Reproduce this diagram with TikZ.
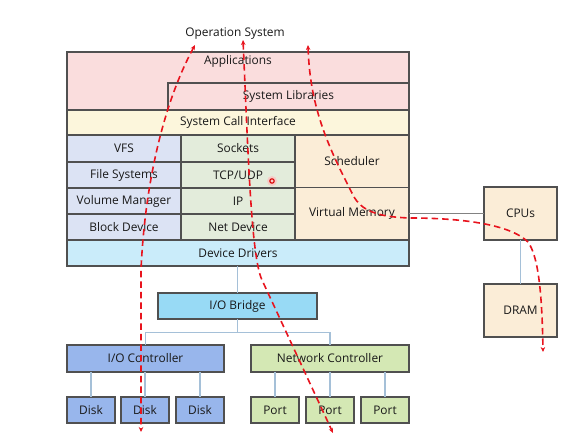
\documentclass[tikz,border=0pt]{standalone}
\usepackage{fontspec}
\setmainfont{Open Sans}
\usetikzlibrary{arrows.meta}
\definecolor{bordc}{RGB}{80,80,80}
\definecolor{apppink}{RGB}{250,221,221}
\definecolor{scicream}{RGB}{252,246,220}
\definecolor{fsblue}{RGB}{220,227,244}
\definecolor{netgreen}{RGB}{227,236,219}
\definecolor{memtan}{RGB}{251,237,215}
\definecolor{ddcyan}{RGB}{202,236,250}
\definecolor{bridgecyan}{RGB}{152,218,245}
\definecolor{iocblue}{RGB}{152,182,236}
\definecolor{ncgreen}{RGB}{212,232,180}
\definecolor{linkc}{RGB}{165,192,216}
\definecolor{grayline}{RGB}{130,130,130}
\definecolor{flowred}{RGB}{232,20,30}
\tikzset{
  cell/.style={draw=bordc, line width=1.1bp, inner sep=0pt, outer sep=0pt,
    font=\fontsize{11.9bp}{14bp}\selectfont, text=black!90},
  lbl/.style={inner sep=0pt, font=\fontsize{11.9bp}{14bp}\selectfont, text=black!90},
  link/.style={draw=linkc, line width=1.2bp},
  flow/.style={draw=flowred, line width=1.6bp, dash pattern=on 6.5bp off 4bp,
    {Stealth[length=5bp,width=4.5bp]}-{Stealth[length=5bp,width=4.5bp]}}
}
\begin{document}
\begin{tikzpicture}[x=1bp,y=-1bp]
\useasboundingbox (0,0) rectangle (585,442);
\fill[white] (0,0) rectangle (585,442);
% top stack
\node[cell, fill=apppink, minimum width=342bp, minimum height=58bp] (app) at (238,81) {};
\node[lbl] (apptxt) at (238,61) {Applications};
\node[cell, fill=apppink, minimum width=241bp, minimum height=27bp] (slib) at (288.5,96.5) {System Libraries};
\node[cell, fill=scicream, minimum width=342bp, minimum height=25bp] (sci) at (238,122.5) {System Call Interface};
\node[cell, fill=fsblue, minimum width=114bp, minimum height=27bp] (vfs) at (124,148.5) {VFS};
\node[cell, fill=fsblue, minimum width=114bp, minimum height=26bp] (fs) at (124,175) {File Systems};
\node[cell, fill=fsblue, minimum width=114bp, minimum height=26bp] (vol) at (124,201) {Volume Manager};
\node[cell, fill=fsblue, minimum width=114bp, minimum height=26bp] (blk) at (124,227) {Block Device};
\node[cell, fill=netgreen, minimum width=114bp, minimum height=27bp] (sock) at (238,148.5) {Sockets};
\node[cell, fill=netgreen, minimum width=114bp, minimum height=26bp] (tcp) at (238,175) {TCP/UDP};
\node[cell, fill=netgreen, minimum width=114bp, minimum height=26bp] (ip) at (238,201) {IP};
\node[cell, fill=netgreen, minimum width=114bp, minimum height=26bp] (ndev) at (238,227) {Net Device};
\node[cell, fill=memtan, minimum width=114bp, minimum height=52.5bp] (sched) at (352,161.25) {Scheduler};
\node[cell, fill=memtan, minimum width=114bp, minimum height=52.5bp] (vm) at (352,213.75) {Virtual Memory};
\node[cell, fill=ddcyan, minimum width=342bp, minimum height=26bp] (dd) at (238,253) {Device Drivers};
% right side
\node[cell, fill=memtan, minimum width=73bp, minimum height=53bp] (cpu) at (520.5,213.5) {CPUs};
\node[cell, fill=memtan, minimum width=73bp, minimum height=53bp] (dram) at (520.5,310.5) {DRAM};
% lower part
\node[cell, fill=bridgecyan, minimum width=159bp, minimum height=26bp] (bridge) at (237.5,306) {I/O Bridge};
\node[cell, fill=iocblue, minimum width=157bp, minimum height=27bp] (ioc) at (145.5,358.5) {I/O Controller};
\node[cell, fill=ncgreen, minimum width=158bp, minimum height=27bp] (nc) at (330,358.5) {Network Controller};
\node[cell, fill=iocblue, minimum width=48bp, minimum height=26bp] (d1) at (91,410) {Disk};
\node[cell, fill=iocblue, minimum width=48bp, minimum height=26bp] (d2) at (145,410) {Disk};
\node[cell, fill=iocblue, minimum width=48bp, minimum height=26bp] (d3) at (200,410) {Disk};
\node[cell, fill=ncgreen, minimum width=48bp, minimum height=26bp] (p1) at (275,410) {Port};
\node[cell, fill=ncgreen, minimum width=48bp, minimum height=26bp] (p2) at (330,410) {Port};
\node[cell, fill=ncgreen, minimum width=48bp, minimum height=26bp] (p3) at (385,410) {Port};
\node[lbl] (title) at (235,34) {Operation System};
% connectors
\draw[link] (dd.south -| bridge.north) -- (bridge.north);
\coordinate (busL) at (145.5,332.5);
\draw[link] (bridge.south) -- (bridge.south |- busL);
\draw[link] (ioc.north) -- (busL) -| (nc.north);
\draw[link] (d1.north) -- (d1.north |- ioc.south);
\draw[link] (d2.north) -- (d2.north |- ioc.south);
\draw[link] (d3.north) -- (d3.north |- ioc.south);
\draw[link] (p1.north) -- (p1.north |- nc.south);
\draw[link] (p2.north) -- (p2.north |- nc.south);
\draw[link] (p3.north) -- (p3.north |- nc.south);
\draw[link] (cpu.south) -- (dram.north);
\draw[draw=grayline, line width=1.2bp] (vm.east) -- (vm.east -| cpu.west);
% red dashed flows
\coordinate (f1a) at (195,45);
\coordinate (f1b) at (141,432);
\coordinate (f2a) at (243,40);
\coordinate (f2b) at (333,433);
\coordinate (f3a) at (308,45);
\coordinate (f3b) at (543,352);
\draw[flow] (f1a) .. controls (165,100) and (145,180) .. (141,270) -- (f1b);
\draw[flow] (f2a) .. controls (248,150) and (251,257) .. (262,280) -- (f2b);
\draw[flow] (f3a) .. controls (310,110) and (330,150) .. (353,195)
  .. controls (361,211) and (378,217) .. (410,218)
  .. controls (460,218) and (510,224) .. (528,242)
  .. controls (538,256) and (542,290) .. (f3b);
% cursor mark
\fill[red!25, opacity=0.7] (272,181) circle (5bp);
\draw[red!85!black, line width=1.1bp] (272,181) circle (2.2bp);
\end{tikzpicture}
\end{document}
